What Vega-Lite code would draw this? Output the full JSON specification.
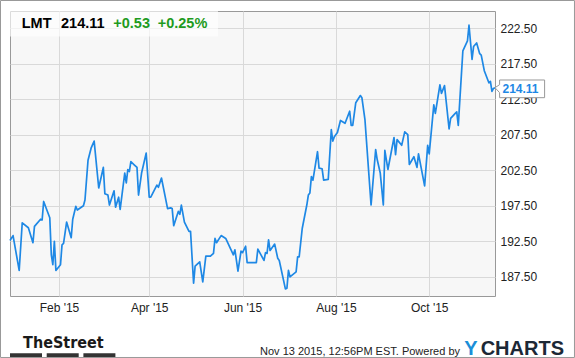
{
  "$schema": "https://vega.github.io/schema/vega-lite/v6.json",
  "width": 485,
  "height": 285,
  "autosize": {"type": "none"},
  "padding": {"left": 10, "top": 11, "right": 80, "bottom": 62},
  "background": "#ffffff",
  "config": {
    "font": "Liberation Sans",
    "view": {"fill": "#f7f7f7", "stroke": "#999999", "strokeWidth": 1},
    "axis": {"labelFont": "Liberation Sans", "labelFontSize": 12, "labelColor": "#222222", "gridColor": "#d9d9d9", "gridWidth": 1, "domain": false, "ticks": false, "tickSize": 0, "title": null}
  },
  "datasets": {
    "prices": [
      {"date":"2014-12-31","price":192.6},{"date":"2015-01-02","price":193.3},{"date":"2015-01-06","price":188.4},{"date":"2015-01-08","price":195.1},{"date":"2015-01-12","price":194.4},{"date":"2015-01-15","price":192.3},{"date":"2015-01-16","price":194.6},{"date":"2015-01-20","price":195.6},{"date":"2015-01-21","price":195.5},{"date":"2015-01-22","price":198.1},{"date":"2015-01-26","price":195.8},{"date":"2015-01-27","price":190.6},{"date":"2015-01-28","price":189.2},{"date":"2015-01-29","price":192.5},{"date":"2015-01-30","price":188.4},{"date":"2015-02-02","price":189.2},{"date":"2015-02-03","price":192.0},{"date":"2015-02-04","price":192.2},{"date":"2015-02-06","price":195.2},{"date":"2015-02-09","price":193.0},{"date":"2015-02-10","price":195.6},{"date":"2015-02-12","price":197.4},{"date":"2015-02-13","price":196.9},{"date":"2015-02-17","price":197.5},{"date":"2015-02-18","price":198.3},{"date":"2015-02-20","price":203.9},{"date":"2015-02-22","price":205.6},{"date":"2015-02-24","price":206.6},{"date":"2015-02-27","price":200.0},{"date":"2015-03-02","price":202.9},{"date":"2015-03-03","price":199.2},{"date":"2015-03-05","price":199.0},{"date":"2015-03-06","price":197.6},{"date":"2015-03-09","price":199.6},{"date":"2015-03-10","price":197.3},{"date":"2015-03-12","price":198.7},{"date":"2015-03-13","price":197.0},{"date":"2015-03-16","price":202.1},{"date":"2015-03-17","price":200.7},{"date":"2015-03-18","price":202.6},{"date":"2015-03-19","price":202.3},{"date":"2015-03-20","price":203.7},{"date":"2015-03-22","price":203.3},{"date":"2015-03-24","price":202.9},{"date":"2015-03-25","price":199.0},{"date":"2015-03-27","price":202.1},{"date":"2015-03-30","price":204.9},{"date":"2015-04-01","price":198.7},{"date":"2015-04-02","price":198.7},{"date":"2015-04-06","price":200.4},{"date":"2015-04-07","price":200.1},{"date":"2015-04-09","price":201.4},{"date":"2015-04-13","price":197.1},{"date":"2015-04-15","price":197.2},{"date":"2015-04-16","price":197.1},{"date":"2015-04-17","price":194.7},{"date":"2015-04-20","price":196.7},{"date":"2015-04-21","price":196.3},{"date":"2015-04-22","price":197.6},{"date":"2015-04-24","price":195.2},{"date":"2015-04-27","price":193.9},{"date":"2015-04-28","price":193.9},{"date":"2015-04-30","price":186.6},{"date":"2015-05-01","price":189.0},{"date":"2015-05-04","price":189.6},{"date":"2015-05-06","price":186.8},{"date":"2015-05-08","price":190.4},{"date":"2015-05-11","price":190.4},{"date":"2015-05-13","price":190.8},{"date":"2015-05-14","price":192.9},{"date":"2015-05-15","price":192.3},{"date":"2015-05-18","price":193.3},{"date":"2015-05-21","price":192.9},{"date":"2015-05-26","price":190.6},{"date":"2015-05-27","price":191.3},{"date":"2015-05-29","price":188.3},{"date":"2015-05-31","price":191.1},{"date":"2015-06-01","price":190.9},{"date":"2015-06-03","price":191.8},{"date":"2015-06-04","price":189.5},{"date":"2015-06-10","price":189.5},{"date":"2015-06-11","price":191.4},{"date":"2015-06-15","price":189.8},{"date":"2015-06-16","price":190.9},{"date":"2015-06-17","price":190.8},{"date":"2015-06-18","price":192.7},{"date":"2015-06-19","price":191.2},{"date":"2015-06-22","price":192.1},{"date":"2015-06-24","price":190.1},{"date":"2015-06-25","price":189.8},{"date":"2015-06-29","price":185.8},{"date":"2015-06-30","price":185.9},{"date":"2015-07-01","price":188.4},{"date":"2015-07-02","price":187.5},{"date":"2015-07-06","price":188.2},{"date":"2015-07-07","price":190.3},{"date":"2015-07-08","price":190.3},{"date":"2015-07-10","price":194.3},{"date":"2015-07-13","price":197.6},{"date":"2015-07-14","price":199.0},{"date":"2015-07-15","price":199.3},{"date":"2015-07-16","price":201.6},{"date":"2015-07-17","price":201.1},{"date":"2015-07-20","price":205.1},{"date":"2015-07-21","price":202.8},{"date":"2015-07-23","price":202.7},{"date":"2015-07-24","price":201.1},{"date":"2015-07-27","price":201.2},{"date":"2015-07-29","price":208.2},{"date":"2015-07-30","price":206.6},{"date":"2015-07-31","price":207.2},{"date":"2015-08-02","price":207.8},{"date":"2015-08-04","price":209.5},{"date":"2015-08-07","price":209.1},{"date":"2015-08-10","price":210.8},{"date":"2015-08-11","price":208.8},{"date":"2015-08-12","price":208.8},{"date":"2015-08-14","price":212.0},{"date":"2015-08-17","price":213.0},{"date":"2015-08-18","price":212.7},{"date":"2015-08-20","price":209.6},{"date":"2015-08-24","price":197.6},{"date":"2015-08-27","price":205.4},{"date":"2015-08-28","price":204.0},{"date":"2015-08-30","price":202.1},{"date":"2015-09-01","price":197.6},{"date":"2015-09-02","price":205.3},{"date":"2015-09-04","price":202.6},{"date":"2015-09-08","price":207.1},{"date":"2015-09-09","price":204.7},{"date":"2015-09-10","price":206.8},{"date":"2015-09-13","price":206.0},{"date":"2015-09-15","price":207.9},{"date":"2015-09-17","price":207.5},{"date":"2015-09-18","price":203.3},{"date":"2015-09-21","price":204.4},{"date":"2015-09-23","price":202.9},{"date":"2015-09-24","price":204.8},{"date":"2015-09-28","price":200.3},{"date":"2015-09-30","price":206.0},{"date":"2015-10-01","price":204.8},{"date":"2015-10-04","price":211.7},{"date":"2015-10-05","price":210.5},{"date":"2015-10-08","price":214.5},{"date":"2015-10-09","price":213.3},{"date":"2015-10-11","price":214.4},{"date":"2015-10-14","price":208.3},{"date":"2015-10-15","price":209.8},{"date":"2015-10-18","price":210.5},{"date":"2015-10-19","price":210.7},{"date":"2015-10-20","price":208.8},{"date":"2015-10-23","price":219.3},{"date":"2015-10-26","price":220.7},{"date":"2015-10-27","price":222.9},{"date":"2015-10-29","price":218.1},{"date":"2015-10-30","price":219.9},{"date":"2015-11-01","price":220.4},{"date":"2015-11-03","price":218.9},{"date":"2015-11-04","price":218.7},{"date":"2015-11-06","price":216.5},{"date":"2015-11-09","price":214.8},{"date":"2015-11-10","price":215.0},{"date":"2015-11-11","price":213.6},{"date":"2015-11-12","price":214.0},{"date":"2015-11-13","price":214.11}
    ]
  },
  "layer": [
    {
      "data": {"name": "prices"},
      "mark": {"type": "line", "color": "#1e88e5", "strokeWidth": 1.7, "strokeJoin": "round"},
      "encoding": {
        "x": {"field": "date", "type": "temporal",
          "scale": {"type": "utc", "domain": [{"year":2014,"month":12,"date":31,"utc":true},{"year":2015,"month":11,"date":13,"utc":true}]},
          "axis": {"values": [{"year":2015,"month":2,"date":1,"utc":true},{"year":2015,"month":4,"date":1,"utc":true},{"year":2015,"month":6,"date":1,"utc":true},{"year":2015,"month":8,"date":1,"utc":true},{"year":2015,"month":10,"date":1,"utc":true}], "format": "%b '%y", "labelPadding": 6, "grid": true, "title": null}},
        "y": {"field": "price", "type": "quantitative",
          "scale": {"domain": [184.8, 224.9], "nice": false, "zero": false},
          "axis": {"orient": "right", "values": [187.5,192.5,197.5,202.5,207.5,212.5,217.5,222.5], "format": ".2f", "labelPadding": 5, "labelAlign": "left", "grid": true, "title": null}}
      }
    },
    {
      "data": {"values": [{}]},
      "mark": {"type": "rect", "fill": "#ffffff", "fillOpacity": 0.65},
      "encoding": {
        "x": {"datum": {"year":2014,"month":12,"date":31,"utc":true}, "type": "temporal"},
        "x2": {"datum": {"year":2015,"month":5,"date":15,"hours":22,"minutes":48,"utc":true}},
        "y": {"datum": 224.9, "type": "quantitative"},
        "y2": {"datum": 221.31}
      }
    },
    {
      "data": {"values": [{"t": "LMT"}, {"t": "214.11"}, {"t": "+0.53"}, {"t": "+0.25%"}]},
      "layer": [
        {"transform": [{"filter": "datum.t === 'LMT'"}], "mark": {"type": "text", "align": "left", "baseline": "alphabetic", "dx": 11.7, "dy": 17.3, "fontSize": 14.5, "fontWeight": "bold", "color": "#000000"}},
        {"transform": [{"filter": "datum.t === '214.11'"}], "mark": {"type": "text", "align": "left", "baseline": "alphabetic", "dx": 51, "dy": 17.3, "fontSize": 14.5, "fontWeight": "bold", "color": "#000000"}},
        {"transform": [{"filter": "datum.t === '+0.53'"}], "mark": {"type": "text", "align": "left", "baseline": "alphabetic", "dx": 103.3, "dy": 17.3, "fontSize": 14.5, "fontWeight": "bold", "color": "#1f9b1f"}},
        {"transform": [{"filter": "datum.t === '+0.25%'"}], "mark": {"type": "text", "align": "left", "baseline": "alphabetic", "dx": 147.7, "dy": 17.3, "fontSize": 14.5, "fontWeight": "bold", "color": "#1f9b1f"}}
      ],
      "encoding": {
        "x": {"datum": {"year":2014,"month":12,"date":31,"utc":true}, "type": "temporal"},
        "y": {"datum": 224.9, "type": "quantitative"},
        "text": {"field": "t"}
      }
    },
    {
      "data": {"values": [{"t": "214.11"}]},
      "layer": [
        {"mark": {"type": "point", "shape": "M0,0 L0.46,-0.3 L0.46,-0.77 L4.96,-0.77 L4.96,1.0 L0.46,1.0 L0.46,0.5 Z", "size": 400, "filled": true, "fill": "#ffffff", "stroke": "#999999", "strokeWidth": 1, "opacity": 1}},
        {"mark": {"type": "text", "align": "left", "baseline": "middle", "dx": 7.5, "dy": 1.8, "fontSize": 12, "fontWeight": "bold", "color": "#1e88e5"}, "encoding": {"text": {"field": "t"}}}
      ],
      "encoding": {
        "x": {"datum": {"year":2015,"month":11,"date":13,"utc":true}, "type": "temporal"},
        "y": {"datum": 214.11, "type": "quantitative"}
      }
    },
    {
      "data": {"values": [{"t": "TheStreet"}]},
      "mark": {"type": "text", "align": "center", "baseline": "alphabetic", "dx": 53.4, "dy": 52, "fontSize": 16, "fontWeight": "bold", "font": "DejaVu Sans Condensed, Liberation Sans", "color": "#1a1a1a"},
      "encoding": {
        "x": {"datum": {"year":2014,"month":12,"date":31,"utc":true}, "type": "temporal"},
        "y": {"datum": 184.8, "type": "quantitative"},
        "text": {"field": "t"}
      }
    },
    {
      "data": {"values": [{}]},
      "mark": {"type": "rule", "color": "#333333", "strokeWidth": 4.5, "strokeDash": [32, 4.7]},
      "encoding": {
        "x": {"datum": {"year":2014,"month":12,"date":31,"utc":true}, "type": "temporal"},
        "x2": {"datum": {"year":2015,"month":3,"date":10,"hours":7,"utc":true}},
        "y": {"datum": 176.43, "type": "quantitative"}
      }
    },
    {
      "data": {"values": [{"t": "Nov 13 2015, 12:56PM EST.  Powered by"}]},
      "mark": {"type": "text", "align": "right", "baseline": "alphabetic", "dx": 450, "dy": 59, "fontSize": 11, "color": "#222222"},
      "encoding": {
        "x": {"datum": {"year":2014,"month":12,"date":31,"utc":true}, "type": "temporal"},
        "y": {"datum": 184.8, "type": "quantitative"},
        "text": {"field": "t"}
      }
    },
    {
      "data": {"values": [{"t": "Y"}]},
      "mark": {"type": "text", "align": "right", "baseline": "alphabetic", "dx": 467.5, "dy": 59, "fontSize": 20, "fontWeight": "bold", "color": "#1b8fd8"},
      "encoding": {
        "x": {"datum": {"year":2014,"month":12,"date":31,"utc":true}, "type": "temporal"},
        "y": {"datum": 184.8, "type": "quantitative"},
        "text": {"field": "t"}
      }
    },
    {
      "data": {"values": [{"t": "CHARTS"}]},
      "mark": {"type": "text", "align": "right", "baseline": "alphabetic", "dx": 554, "dy": 59, "fontSize": 20, "fontWeight": "bold", "color": "#1c2836"},
      "encoding": {
        "x": {"datum": {"year":2014,"month":12,"date":31,"utc":true}, "type": "temporal"},
        "y": {"datum": 184.8, "type": "quantitative"},
        "text": {"field": "t"}
      }
    },
    {
      "data": {"values": [{}]},
      "mark": {"type": "rect", "filled": false, "stroke": "#999999", "strokeWidth": 1},
      "encoding": {
        "x": {"datum": {"year":2014,"month":12,"date":24,"hours":19,"utc":true}, "type": "temporal"},
        "x2": {"datum": {"year":2016,"month":1,"date":3,"hours":22,"minutes":48,"utc":true}},
        "y": {"datum": 226.377, "type": "quantitative"},
        "y2": {"datum": 176.147}
      }
    }
  ]
}
